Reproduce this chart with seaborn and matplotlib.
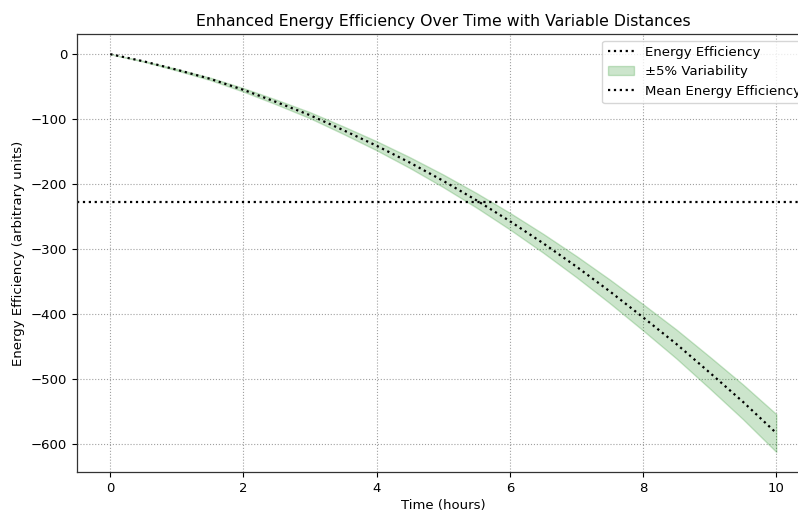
import matplotlib
matplotlib.use("Agg")
import matplotlib.pyplot as plt
import seaborn as sns
import pandas as pd

# Energy efficiency readings over time (hours)
time_hours = [0.0, 0.5, 1.0, 1.5, 2.0, 2.5, 3.0, 3.5, 4.0, 4.5, 5.0,
              5.5, 6.0, 6.5, 7.0, 7.5, 8.0, 8.5, 9.0, 9.5, 10.0]
efficiency = [0, -11, -24, -38, -55, -74, -94, -117, -141, -167, -195,
              -225, -257, -291, -327, -365, -405, -446, -490, -535, -583]
variability = 0.05
mean_efficiency = -228

df = pd.DataFrame({"time": time_hours, "efficiency": efficiency})
lower = [v * (1 + variability) for v in efficiency]
upper = [v * (1 - variability) for v in efficiency]

sns.set_style("white")
plt.rcParams["font.family"] = ["DejaVu Sans"]
plt.rcParams["text.color"] = "black"
plt.rcParams["axes.labelcolor"] = "black"
plt.rcParams["xtick.color"] = "black"
plt.rcParams["ytick.color"] = "black"

fig = plt.figure(figsize=(7.98, 5.13), dpi=100)
ax = fig.add_axes([0.0965, 0.0799, 0.918, 0.8538])

sns.lineplot(data=df, x="time", y="efficiency", ax=ax, color="black",
             linestyle=":", linewidth=1.6, label="Energy Efficiency")
ax.fill_between(df["time"], lower, upper, color="green", alpha=0.2,
                label="±5% Variability")
ax.axhline(mean_efficiency, color="black", linestyle=":", linewidth=1.6,
           label="Mean Energy Efficiency")

ax.set_xlim(-0.5, 10.5)
ax.set_ylim(-643, 31)
ax.set_xticks([0, 2, 4, 6, 8, 10])
ax.set_yticks([0, -100, -200, -300, -400, -500, -600])
ax.yaxis.set_major_formatter(matplotlib.ticker.FuncFormatter(
    lambda v, p: f"{int(v)}".replace("-", "\u2212")))

ax.grid(True, linestyle=":", color="#a0a0a0", linewidth=0.8)
ax.tick_params(axis="both", labelsize=9.5, length=3.5, width=0.8,
               direction="out", bottom=True, left=True, colors="black")
for s in ax.spines.values():
    s.set_color("#333333")
    s.set_linewidth(0.9)
ax.spines["right"].set_visible(False)

ax.set_title("Enhanced Energy Efficiency Over Time with Variable Distances",
             fontsize=11.3, pad=6)
ax.set_xlabel("Time (hours)", fontsize=9.5, labelpad=3)
ax.set_ylabel("Energy Efficiency (arbitrary units)", fontsize=9.5)
ax.legend(loc="upper right", fontsize=9.5, frameon=True,
          bbox_to_anchor=(1.004, 1.0))

fig.savefig("out.png", dpi=100)
